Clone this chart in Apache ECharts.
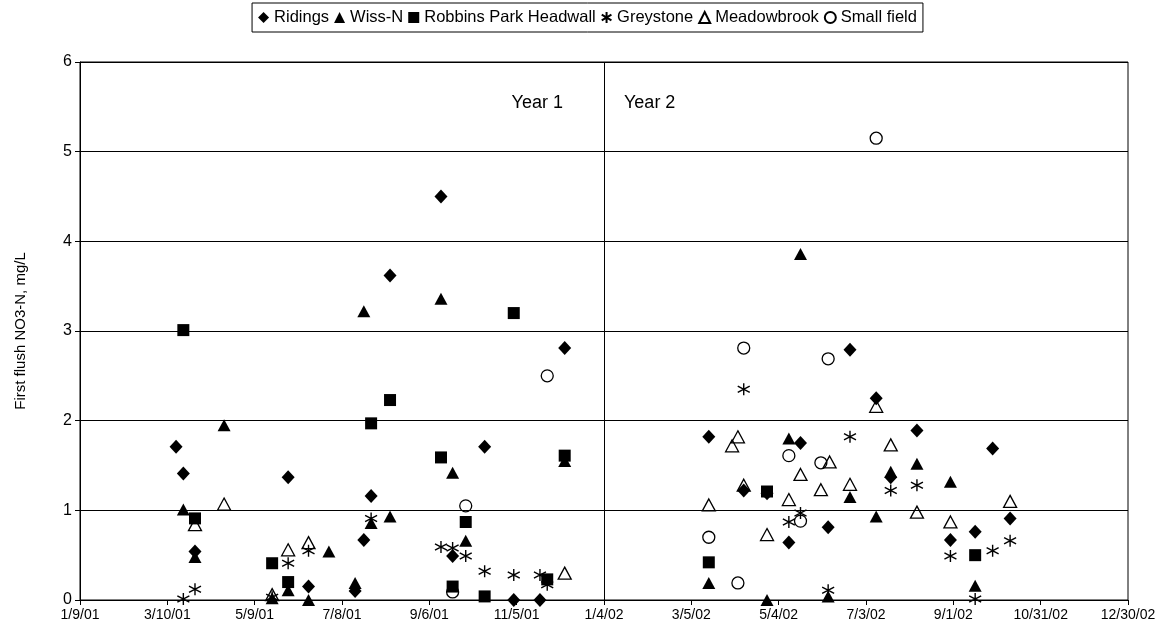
<!DOCTYPE html>
<html><head><meta charset="utf-8">
<script src="https://cdn.jsdelivr.net/npm/echarts@6/dist/echarts.min.js"></script>
<style>html,body{margin:0;padding:0;background:#fff}#c{width:1175px;height:644px}</style>
</head><body><div id="c"></div>
<script>
// ---- data ----
const xTickStart = '1/9/01', xTickEnd = '12/30/02', xTickDays = 60;
const yearSplitDate = '1/4/02';
const yearLabels = ['Year 1', 'Year 2'];
const seriesNames = ['Ridings', 'Wiss-N', 'Robbins Park Headwall', 'Greystone', 'Meadowbrook', 'Small field'];

const ridingsDates = ['3/16/01','3/21/01','3/29/01','6/1/01','6/15/01','7/17/01','7/23/01','7/28/01','8/10/01','9/14/01','9/22/01','10/14/01','11/3/01','11/21/01','12/8/01','3/17/02','4/10/02','4/26/02','5/11/02','5/19/02','6/7/02','6/22/02','7/10/02','7/20/02','8/7/02','8/30/02','9/16/02','9/28/02','10/10/02'];
const ridingsValues = [1.71,1.41,0.54,1.37,0.15,0.10,0.67,1.16,3.62,4.50,0.49,1.71,0.00,0.00,2.81,1.82,1.22,1.19,0.64,1.75,0.81,2.79,2.25,1.37,1.89,0.67,0.76,1.69,0.91];

const wissDates = ['3/21/01','3/29/01','4/18/01','5/21/01','6/1/01','6/15/01','6/29/01','7/17/01','7/23/01','7/28/01','8/10/01','9/14/01','9/22/01','10/1/01','12/8/01','3/17/02','4/26/02','5/11/02','5/19/02','6/7/02','6/22/02','7/10/02','7/20/02','8/7/02','8/30/02','9/16/02'];
const wissValues = [1.01,0.48,1.95,0.02,0.11,0.00,0.54,0.19,3.22,0.86,0.93,3.36,1.42,0.66,1.55,0.19,0.00,1.80,3.86,0.04,1.15,0.93,1.43,1.52,1.32,0.16];

const robbinsDates = ['3/21/01','3/29/01','5/21/01','6/1/01','7/28/01','8/10/01','9/14/01','9/22/01','10/1/01','10/14/01','11/3/01','11/26/01','12/8/01','3/17/02','4/26/02','9/16/02'];
const robbinsValues = [3.01,0.91,0.41,0.20,1.97,2.23,1.59,0.15,0.87,0.04,3.20,0.23,1.61,0.42,1.21,0.50];

const greystoneDates = ['3/21/01','3/29/01','5/21/01','6/1/01','6/15/01','7/28/01','9/14/01','9/22/01','10/1/01','10/14/01','11/3/01','11/21/01','11/26/01','4/10/02','5/11/02','5/19/02','6/7/02','6/22/02','7/20/02','8/7/02','8/30/02','9/16/02','9/28/02','10/10/02'];
const greystoneValues = [0.01,0.12,0.03,0.41,0.55,0.91,0.59,0.58,0.49,0.32,0.28,0.28,0.17,2.35,0.87,0.97,0.11,1.82,1.22,1.28,0.49,0.01,0.55,0.66];

const meadowDates = ['3/29/01','4/18/01','5/21/01','6/1/01','6/15/01','12/8/01','3/17/02','4/2/02','4/6/02','4/10/02','4/26/02','5/11/02','5/19/02','6/2/02','6/8/02','6/22/02','7/10/02','7/20/02','8/7/02','8/30/02','10/10/02'];
const meadowValues = [0.84,1.07,0.06,0.56,0.64,0.30,1.06,1.72,1.82,1.28,0.73,1.12,1.40,1.23,1.54,1.29,2.16,1.73,0.98,0.87,1.10];

const smallDates = ['9/22/01','10/1/01','11/26/01','3/17/02','4/6/02','4/10/02','5/11/02','5/19/02','6/2/02','6/7/02','7/10/02'];
const smallValues = [0.09,1.05,2.50,0.70,0.19,2.81,1.61,0.88,1.53,2.69,5.15];

// ---- helpers ----
const EPOCH = Date.UTC(1899, 11, 30);
function toSerial(s) {
  const p = s.split('/').map(Number);
  return Math.round((Date.UTC(2000 + p[2], p[0] - 1, p[1]) - EPOCH) / 86400000);
}
function fromSerial(n) {
  const d = new Date(EPOCH + n * 86400000);
  const yy = String(d.getUTCFullYear() % 100).padStart(2, '0');
  return (d.getUTCMonth() + 1) + '/' + d.getUTCDate() + '/' + yy;
}
function pairs(dates, vals) { return dates.map((d, i) => [toSerial(d), vals[i]]); }

const FONT = '"Liberation Sans", Arial, sans-serif';
const starPath = 'path://M5,0L5,10M0.6,2.4L9.4,7.6M0.6,7.6L9.4,2.4';
const filled = { color: '#000', borderColor: '#000', borderWidth: 0, opacity: 1 };
const open = { color: 'rgba(0,0,0,0)', borderColor: '#000', borderWidth: 1.3, opacity: 1 };

const defs = [
  { data: pairs(ridingsDates, ridingsValues), symbol: 'diamond', size: [13, 14], style: filled },
  { data: pairs(wissDates, wissValues), symbol: 'triangle', size: [13, 12], style: filled },
  { data: pairs(robbinsDates, robbinsValues), symbol: 'rect', size: 12, style: filled },
  { data: pairs(greystoneDates, greystoneValues), symbol: starPath, size: 12, style: { color: 'rgba(0,0,0,0)', borderColor: '#000', borderWidth: 1.4, opacity: 1 } },
  { data: pairs(meadowDates, meadowValues), symbol: 'triangle', size: [13, 12], style: open },
  { data: pairs(smallDates, smallValues), symbol: 'circle', size: 12, style: open }
];

const series = defs.map((d, i) => ({
  name: seriesNames[i],
  type: 'scatter',
  data: d.data,
  symbol: d.symbol,
  symbolSize: d.size,
  itemStyle: d.style,
  emphasis: { disabled: true },
  z: 3 + i
}));
series[0].markLine = {
  silent: true, symbol: 'none', animation: false,
  label: { show: false },
  lineStyle: { color: '#000', width: 1, type: 'solid', opacity: 1 },
  data: [{ xAxis: toSerial(yearSplitDate) }]
};

const chart = echarts.init(document.getElementById('c'), null, { renderer: 'canvas' });
chart.setOption({
  animation: false,
  backgroundColor: '#fff',
  textStyle: { fontFamily: FONT, color: '#000' },
  grid: { left: 80, right: 47, top: 62, bottom: 44, show: true, borderColor: '#000', borderWidth: 1 },
  legend: {
    top: 3, left: 'center',
    data: seriesNames,
    itemWidth: 11, itemHeight: 11, itemGap: 5,
    padding: [6, 6, 6, 6],
    borderColor: '#000', borderWidth: 1,
    textStyle: { fontSize: 16.5, fontFamily: FONT, color: '#000' },
    selectedMode: false
  },
  xAxis: {
    type: 'value', min: toSerial(xTickStart), max: toSerial(xTickEnd), interval: xTickDays,
    axisLine: { show: true, onZero: false, lineStyle: { color: '#000', width: 1 } },
    axisTick: { show: true, length: 5, lineStyle: { color: '#000' } },
    axisLabel: { fontSize: 14, color: '#000', fontFamily: FONT, margin: 8, formatter: v => fromSerial(v) },
    splitLine: { show: false }
  },
  yAxis: {
    type: 'value', min: 0, max: 6, interval: 1,
    name: 'First flush NO3-N, mg/L', nameLocation: 'middle', nameGap: 52,
    nameTextStyle: { fontSize: 15, color: '#000', fontFamily: FONT },
    axisLine: { show: true, lineStyle: { color: '#000', width: 1 } },
    axisTick: { show: true, length: 5, lineStyle: { color: '#000' } },
    axisLabel: { fontSize: 16, color: '#000', fontFamily: FONT, margin: 8 },
    splitLine: { show: true, lineStyle: { color: '#000', width: 1 } }
  },
  graphic: [
    { type: 'text', x: 563, y: 103, style: { text: yearLabels[0], font: '18px ' + FONT, fill: '#000', align: 'right', verticalAlign: 'middle' } },
    { type: 'text', x: 624, y: 103, style: { text: yearLabels[1], font: '18px ' + FONT, fill: '#000', align: 'left', verticalAlign: 'middle' } }
  ],
  series: series
});
</script>
</body></html>
